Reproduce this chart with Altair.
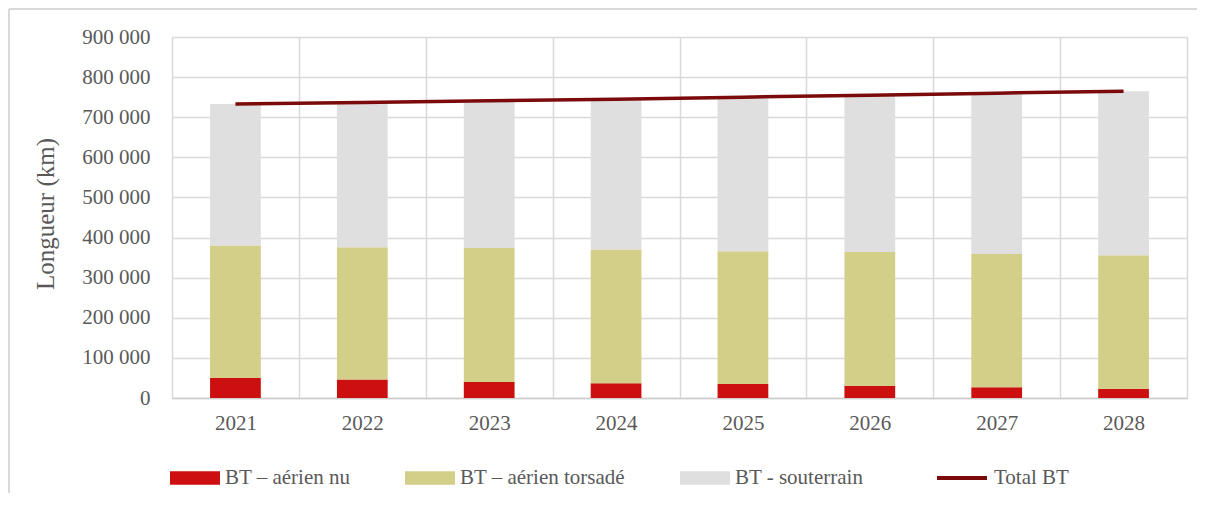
import altair as alt
import pandas as pd

years = ["2021", "2022", "2023", "2024", "2025", "2026", "2027", "2028"]
series = ["BT – aérien nu", "BT – aérien torsadé", "BT - souterrain"]
nu = [50000, 46000, 40000, 37000, 35000, 30000, 27000, 23000]
torsade = [330000, 330000, 334000, 333000, 331000, 334000, 332000, 333000]
souterrain = [353000, 361000, 367000, 375000, 384000, 391000, 401000, 409000]
total = [733000, 737000, 741000, 745000, 750000, 755000, 760000, 765000]
total_name = "Total BT"

bar_colors = ["#CC1010", "#D4CF88", "#DFDFDF"]
line_color = "#7B0A0A"
text_color = "#595959"
grid_color = "#D9D9D9"
FONT = "Liberation Serif"

rows = []
for i, y in enumerate(years):
    for k, (s, vals) in enumerate(zip(series, [nu, torsade, souterrain])):
        rows.append({"year": y, "series": s, "value": vals[i], "ord": k})
df = pd.DataFrame(rows)
df_total = pd.DataFrame({"year": years, "total": total, "name": [total_name] * len(years)})

W, H = 1015, 361

frame = alt.Chart(pd.DataFrame({"a": [0]}))
top_rule = frame.mark_rule(color=grid_color, strokeWidth=2).encode(
    x=alt.value(-163), x2=alt.value(W + 10), y=alt.value(-28))
left_rule = frame.mark_rule(color=grid_color, strokeWidth=2).encode(
    x=alt.value(-163), y=alt.value(-28), y2=alt.value(H + 95))

bars = alt.Chart(df).mark_bar(width={"band": 0.4}).encode(
    x=alt.X("year:N", sort=years, title=None,
            scale=alt.Scale(paddingInner=0, paddingOuter=0),
            axis=alt.Axis(tickBand="extent", grid=True, gridColor=grid_color, gridWidth=1.5,
                          ticks=False, domainColor="#CCCCCC", domainWidth=1.5,
                          labelAngle=0, labelPadding=14, labelFontSize=21,
                          labelColor=text_color, labelFont=FONT)),
    y=alt.Y("value:Q", stack="zero", title="Longueur (km)",
            scale=alt.Scale(domain=[0, 900000], nice=False),
            axis=alt.Axis(values=list(range(0, 900001, 100000)), grid=True,
                          gridColor=grid_color, gridWidth=1.5, ticks=False, domain=False,
                          labelExpr="replace(format(datum.value, ','), ',', ' ')",
                          labelPadding=22, labelFontSize=21, labelColor=text_color,
                          labelFont=FONT, titleFont=FONT, titleFontSize=25,
                          titleFontWeight="normal", titleColor=text_color,
                          titleAngle=270, titleX=-127, titleY=H / 2 - 4,
                          titleAlign="center", titleBaseline="middle")),
    color=alt.Color("series:N", scale=alt.Scale(domain=series, range=bar_colors),
                    legend=alt.Legend(title=None, orient="none", direction="horizontal",
                                      legendX=-2, legendY=416,
                                      symbolType="M-1,-0.27H1V0.27H-1Z", symbolSize=2500,
                                      symbolStrokeWidth=0, symbolOpacity=1,
                                      labelFontSize=21, labelFont=FONT, labelColor=text_color,
                                      labelOffset=5, columnPadding=54, labelLimit=400)),
    order=alt.Order("ord:Q"),
)

line = alt.Chart(df_total).mark_line(strokeWidth=3.5).encode(
    x=alt.X("year:N", sort=years),
    y=alt.Y("total:Q"),
    stroke=alt.Stroke("name:N", scale=alt.Scale(domain=[total_name], range=[line_color]),
                      legend=alt.Legend(title=None, orient="none", direction="horizontal",
                                        legendX=763, legendY=414,
                                        symbolType="stroke", symbolSize=2500,
                                        symbolStrokeWidth=4,
                                        labelFontSize=21, labelFont=FONT,
                                        labelColor=text_color, labelOffset=5)),
)

chart = alt.layer(top_rule, left_rule, bars, line).properties(
    width=W, height=H,
    autosize=alt.AutoSizeParams(type="none"),
    padding={"left": 164, "top": 29, "right": 10, "bottom": 95},
).configure(font=FONT).configure_view(stroke=None).configure_axis(
    labelFont=FONT, titleFont=FONT
).configure_legend(labelFont=FONT, titleFont=FONT)

chart.save("out.html", embed_options={"renderer": "svg", "actions": False})
